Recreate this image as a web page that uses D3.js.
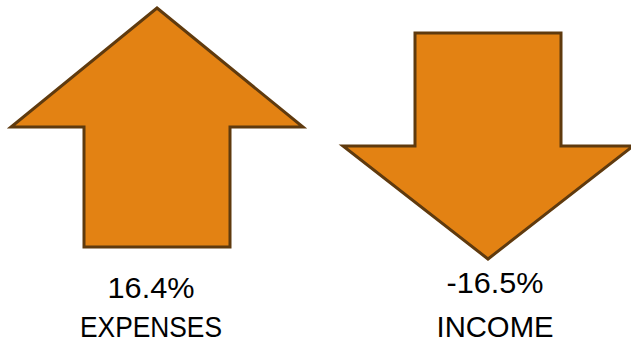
<!DOCTYPE html>
<html>
<head>
<meta charset="utf-8">
<script src="https://cdn.jsdelivr.net/npm/d3@7"></script>
<style>
  html, body { margin: 0; padding: 0; background: #fff; }
  svg { display: block; }
</style>
</head>
<body>
<svg id="chart" width="631" height="341"></svg>
<script>
// ---- data ----
const categories = ["EXPENSES", "INCOME"];
const values = [16.4, -16.5];
const valueLabels = ["16.4%", "-16.5%"];

// ---- layout ----
const svg = d3.select("#chart");

const x = d3.scalePoint().domain(categories).range([157, 488]);
const labelX = d3.scalePoint().domain(categories).range([151, 495]);

// arrow geometry (pixels) per direction
const geom = {
  up:   { top: 8,  head: 127, bottom: 247, headHalf: 146, shaftHalf: 73 },
  down: { top: 33, head: 146, bottom: 259, headHalf: 145, shaftHalf: 73 }
};

function arrowPoints(cx, v) {
  if (v >= 0) {
    const g = geom.up;
    return [
      [cx, g.top],
      [cx + g.headHalf, g.head],
      [cx + g.shaftHalf, g.head],
      [cx + g.shaftHalf, g.bottom],
      [cx - g.shaftHalf, g.bottom],
      [cx - g.shaftHalf, g.head],
      [cx - g.headHalf, g.head]
    ];
  } else {
    const g = geom.down;
    return [
      [cx - g.shaftHalf, g.top],
      [cx + g.shaftHalf, g.top],
      [cx + g.shaftHalf, g.head],
      [cx + g.headHalf, g.head],
      [cx, g.bottom],
      [cx - g.headHalf, g.head],
      [cx - g.shaftHalf, g.head]
    ];
  }
}

const line = d3.line().curve(d3.curveLinearClosed);

const data = categories.map((c, i) => ({ cat: c, value: values[i], label: valueLabels[i] }));

svg.selectAll("path.arrow")
  .data(data)
  .join("path")
  .attr("class", "arrow")
  .attr("d", d => line(arrowPoints(x(d.cat), d.value)))
  .attr("fill", "#E38213")
  .attr("stroke", "#5F3A0E")
  .attr("stroke-width", 3)
  .attr("stroke-linejoin", "miter");

const valueBase = { up: 298, down: 293 };
const widths = { "16.4%": 87, "-16.5%": 97, "EXPENSES": 142, "INCOME": 117 };

svg.selectAll("text.val")
  .data(data)
  .join("text")
  .attr("class", "val")
  .attr("x", d => labelX(d.cat))
  .attr("y", d => d.value >= 0 ? valueBase.up : valueBase.down)
  .attr("text-anchor", "middle")
  .attr("font-family", "Liberation Sans, Arial, sans-serif")
  .attr("font-size", 29)
  .attr("fill", "#000")
  .attr("textLength", d => widths[d.label])
  .attr("lengthAdjust", "spacingAndGlyphs")
  .text(d => d.label);

svg.selectAll("text.cat")
  .data(data)
  .join("text")
  .attr("class", "cat")
  .attr("x", d => labelX(d.cat))
  .attr("y", 337)
  .attr("text-anchor", "middle")
  .attr("font-family", "Liberation Sans, Arial, sans-serif")
  .attr("font-size", 29)
  .attr("fill", "#000")
  .attr("textLength", d => widths[d.cat])
  .attr("lengthAdjust", "spacingAndGlyphs")
  .text(d => d.cat);
</script>
</body>
</html>
